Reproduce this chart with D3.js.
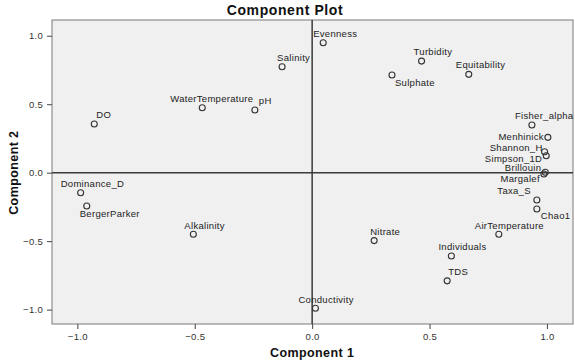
<!DOCTYPE html>
<html>
<head>
<meta charset="utf-8">
<script src="https://cdn.jsdelivr.net/npm/d3@7"></script>
<style>
  body { margin: 0; background: #fff; }
  text { font-family: "Liberation Sans", Arial, sans-serif; }
</style>
</head>
<body>
<div id="chart"></div>
<script>
// variable names and their loadings on the two components
const names = ["Evenness", "Salinity", "Turbidity", "Equitability", "Sulphate",
  "WaterTemperature", "pH", "DO", "Fisher_alpha", "Menhinick", "Shannon_H",
  "Simpson_1D", "Brillouin", "Margalef", "Taxa_S", "Chao1", "AirTemperature",
  "Nitrate", "Individuals", "TDS", "Conductivity", "Dominance_D",
  "BergerParker", "Alkalinity"];
const comp1 = [0.047, -0.128, 0.466, 0.667, 0.340, -0.468, -0.244, -0.928,
  0.936, 1.004, 0.990, 0.997, 0.993, 0.987, 0.957, 0.957, 0.795, 0.264,
  0.593, 0.575, 0.014, -0.986, -0.960, -0.506];
const comp2 = [0.949, 0.774, 0.815, 0.718, 0.713, 0.474, 0.458, 0.355,
  0.348, 0.258, 0.153, 0.124, 0.003, -0.010, -0.199, -0.265, -0.450, -0.496,
  -0.608, -0.790, -0.990, -0.146, -0.243, -0.450];
const xTicks = [-1.0, -0.5, 0.0, 0.5, 1.0];
const yTicks = [-1.0, -0.5, 0.0, 0.5, 1.0];

// label placement relative to each marker (start-anchored unless "end")
const labelPos = {
  Evenness: [-10, -6], Salinity: [-5, -6], Turbidity: [-8, -6],
  Equitability: [-13, -6], Sulphate: [3, 11], WaterTemperature: [-32, -6],
  pH: [4, -6], DO: [2, -6], Fisher_alpha: [-17, -6],
  Menhinick: [-4, 3, "end"], Shannon_H: [-2, -1, "end"], Simpson_1D: [-4, 6, "end"],
  Brillouin: [-4, -1, "end"], Margalef: [-4, 8, "end"], Taxa_S: [-6, -6, "end"],
  Chao1: [4, 10], AirTemperature: [-24, -5], Nitrate: [-4, -6],
  Individuals: [-13, -6], TDS: [1, -6], Conductivity: [-17, -5],
  Dominance_D: [-20, -6], BergerParker: [-7, 11], Alkalinity: [-9, -5]
};

const points = names.map((n, i) => ({name: n, x: comp1[i], y: comp2[i]}));

let width = 575, height = 362;
const margin = {left: 52, right: 2, top: 20, bottom: 38};

const svg = d3.select("#chart")
        .append("svg")
        .attr("width", width)
        .attr("height", height);

const x = d3.scaleLinear().domain([-1.108, 1.111]).range([margin.left, width - margin.right]);
const y = d3.scaleLinear().domain([-1.105, 1.115]).range([height - margin.bottom, margin.top]);

// plot background
svg.append("rect")
    .attr("x", x.range()[0])
    .attr("y", y.range()[1])
    .attr("width", x.range()[1] - x.range()[0])
    .attr("height", y.range()[0] - y.range()[1])
    .attr("fill", "#f0f0f0")
    .attr("stroke", "#7a7a7a")
    .attr("stroke-width", 1);

// axes
const xAxis = svg.append("g")
    .attr("transform", "translate(0," + y.range()[0] + ")")
    .call(d3.axisBottom(x).tickValues(xTicks).tickFormat(d3.format(".1f")).tickSize(5).tickSizeOuter(0));
const yAxis = svg.append("g")
    .attr("transform", "translate(" + x.range()[0] + ",0)")
    .call(d3.axisLeft(y).tickValues(yTicks).tickFormat(d3.format(".1f")).tickSize(5).tickSizeOuter(0));

[xAxis, yAxis].forEach(a => {
    a.select(".domain").remove();
    a.selectAll("line").attr("stroke", "#444");
    a.selectAll("text")
        .attr("font-size", 9.5)
        .attr("letter-spacing", 0.3)
        .attr("fill", "#333")
        .attr("font-family", "'Liberation Sans', Arial, sans-serif");
});
xAxis.selectAll("text").attr("dy", "0.85em");
yAxis.selectAll("text").attr("dx", "-0.1em");

// reference lines through the origin
svg.append("line")
    .attr("x1", x(0)).attr("x2", x(0))
    .attr("y1", y.range()[0]).attr("y2", y.range()[1])
    .attr("stroke", "#3a3a3a").attr("stroke-width", 1.5);
svg.append("line")
    .attr("x1", x.range()[0]).attr("x2", x.range()[1])
    .attr("y1", y(0)).attr("y2", y(0))
    .attr("stroke", "#3a3a3a").attr("stroke-width", 1.5);

// markers
svg.selectAll(".pt")
    .data(points)
    .enter()
    .append("circle")
    .attr("class", "pt")
    .attr("cx", d => x(d.x))
    .attr("cy", d => y(d.y))
    .attr("r", 3)
    .attr("fill", "none")
    .attr("stroke", "#333")
    .attr("stroke-width", 1.1);

// labels
svg.selectAll(".lbl")
    .data(points)
    .enter()
    .append("text")
    .attr("class", "lbl")
    .attr("x", d => x(d.x) + labelPos[d.name][0])
    .attr("y", d => y(d.y) + labelPos[d.name][1])
    .attr("text-anchor", d => labelPos[d.name][2] || "start")
    .attr("font-size", 9.5)
    .attr("letter-spacing", 0.3)
    .attr("fill", "#222")
    .text(d => d.name);

// title and axis titles
svg.append("text")
    .attr("x", 285).attr("y", 15)
    .attr("text-anchor", "middle")
    .attr("font-size", 14)
    .attr("letter-spacing", 0.6)
    .attr("font-weight", "bold")
    .attr("fill", "#111")
    .text("Component Plot");

svg.append("text")
    .attr("x", x(0)).attr("y", 357)
    .attr("text-anchor", "middle")
    .attr("font-size", 12.5)
    .attr("letter-spacing", 0.4)
    .attr("font-weight", "bold")
    .attr("fill", "#111")
    .text("Component 1");

svg.append("text")
    .attr("transform", "translate(18," + y(0) + ") rotate(-90)")
    .attr("text-anchor", "middle")
    .attr("font-size", 12.5)
    .attr("letter-spacing", 0.4)
    .attr("font-weight", "bold")
    .attr("fill", "#111")
    .text("Component 2");
</script>
</body>
</html>
